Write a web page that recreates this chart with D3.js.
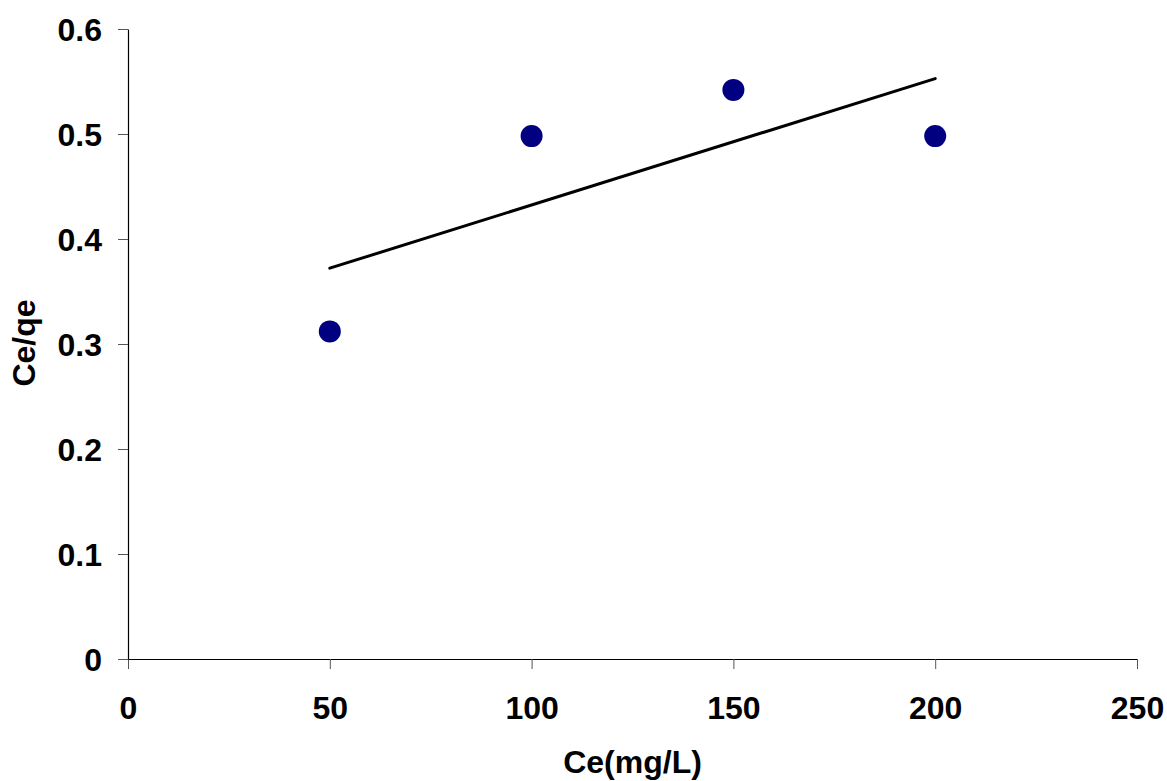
<!DOCTYPE html>
<html>
<head>
<meta charset="utf-8">
<script src="https://cdn.jsdelivr.net/npm/d3@7"></script>
<style>
  body { margin: 0; background: #fff; }
  text { font-family: "Liberation Sans", Arial, sans-serif; font-weight: bold; }
</style>
</head>
<body>
<div class="chart"></div>
<script>
// data
var ce = [50, 100, 150, 200];
var ceQe = [0.312, 0.498, 0.542, 0.498];
var xTicks = [0, 50, 100, 150, 200, 250];
var yTicks = [0, 0.1, 0.2, 0.3, 0.4, 0.5, 0.6];

var width = 1167;
var height = 781;
var padL = 128, padR = 1137, padT = 29, padB = 659;
var fs = 32;

var svg = d3.select('.chart').append("svg").attr("width", width).attr("height", height);

var x = d3.scaleLinear().domain([0, 250]).range([padL, padR]);
var y = d3.scaleLinear().domain([0, 0.6]).range([padB, padT]);

// x axis
var xAxis = svg.append("g").attr("transform", "translate(0," + padB + ")")
  .call(d3.axisBottom(x).tickValues(xTicks).tickSize(10).tickSizeOuter(0).tickFormat(d3.format("d")));
xAxis.selectAll("text").attr("font-size", fs).attr("fill", "#000").attr("dy", null).attr("y", 60);

// y axis
var yAxis = svg.append("g").attr("transform", "translate(" + padL + ",0)")
  .call(d3.axisLeft(y).tickValues(yTicks).tickSize(10).tickSizeOuter(0).tickFormat(function(d){ return d === 0 ? "0" : d3.format(".1f")(d); }));
yAxis.selectAll("text").attr("font-size", fs).attr("fill", "#000").attr("x", -26).attr("dy", "0.36em");

svg.selectAll(".domain").attr("stroke", "#000").attr("stroke-width", 1.2);
svg.selectAll(".tick line").attr("stroke", "#555");

// linear trendline through the points
var n = ce.length;
var mx = d3.mean(ce), my = d3.mean(ceQe);
var sxy = 0, sxx = 0;
for(var i = 0; i < n; i++){
  sxy += (ce[i] - mx) * (ceQe[i] - my);
  sxx += (ce[i] - mx) * (ce[i] - mx);
}
var slope = sxy / sxx;
var icpt = my - slope * mx;
var x0 = d3.min(ce), x1 = d3.max(ce);

svg.append("line")
  .attr("x1", x(x0)).attr("y1", y(icpt + slope * x0))
  .attr("x2", x(x1)).attr("y2", y(icpt + slope * x1))
  .attr("stroke", "#000").attr("stroke-width", 3).attr("stroke-linecap", "round");

// points
svg.selectAll(".pt").data(ce).enter().append("circle")
  .attr("class", "pt")
  .attr("cx", function(d){ return x(d); })
  .attr("cy", function(d, i){ return y(ceQe[i]); })
  .attr("r", 11)
  .style("fill", "#000080");

// axis titles
svg.append("text").attr("x", (padL + padR) / 2).attr("y", 773)
  .attr("text-anchor", "middle").attr("font-size", fs).text("Ce(mg/L)");

svg.append("text").attr("transform", "translate(35,343) rotate(-90)")
  .attr("text-anchor", "middle").attr("font-size", fs).text("Ce/qe");
</script>
</body>
</html>
